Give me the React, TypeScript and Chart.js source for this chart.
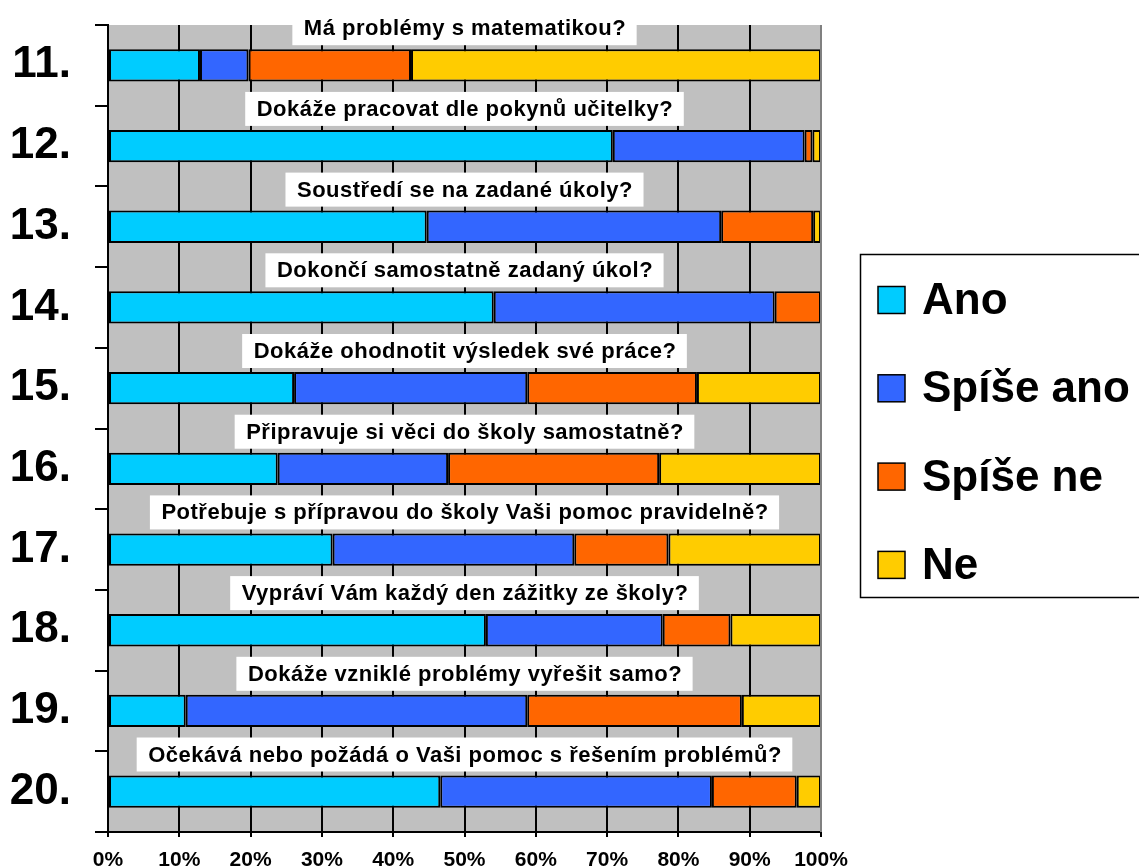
import React, { useEffect, useRef } from 'react';
import { Chart, registerables } from 'chart.js';

Chart.register(...registerables);

const categories = ['11.', '12.', '13.', '14.', '15.', '16.', '17.', '18.', '19.', '20.'];
const questions = [
  'Má problémy s matematikou?',
  'Dokáže pracovat dle pokynů učitelky?',
  'Soustředí se na zadané úkoly?',
  'Dokončí samostatně zadaný úkol?',
  'Dokáže ohodnotit výsledek své práce?',
  'Připravuje si věci do školy samostatně?',
  'Potřebuje s přípravou do školy Vaši pomoc pravidelně?',
  'Vypráví Vám každý den zážitky ze školy?',
  'Dokáže vzniklé problémy vyřešit samo?',
  'Očekává nebo požádá o Vaši pomoc s řešením problémů?',
];
const seriesNames = ['Ano', 'Spíše ano', 'Spíše ne', 'Ne'];
const ano = [12.9, 70.8, 44.7, 54.1, 26.1, 23.8, 31.5, 53.0, 10.9, 46.6];
const spiseAno = [6.8, 26.9, 41.3, 39.4, 32.7, 23.9, 33.9, 24.8, 47.9, 38.1];
const spiseNe = [22.8, 1.1, 12.9, 6.5, 23.8, 29.6, 13.2, 9.5, 30.1, 11.9];
const ne = [57.5, 1.2, 1.1, 0, 17.4, 22.7, 21.4, 12.7, 11.1, 3.4];
const xTickLabels = ['0%', '10%', '20%', '30%', '40%', '50%', '60%', '70%', '80%', '90%', '100%'];

const colors = ['#00CCFF', '#3366FF', '#FF6600', '#FFCC00'];
const FONT = '"Liberation Sans", Arial, sans-serif';

const backgroundPlugin = {
  id: 'plotBg',
  beforeDraw(chart: any) {
    const { ctx, chartArea } = chart;
    ctx.save();
    ctx.fillStyle = '#C0C0C0';
    ctx.fillRect(chartArea.left, chartArea.top, chartArea.right - chartArea.left, chartArea.bottom - chartArea.top);
    ctx.restore();
  },
};

const questionPlugin = {
  id: 'questionBoxes',
  afterDatasetsDraw(chart: any) {
    const { ctx, chartArea } = chart;
    const meta = chart.getDatasetMeta(0);
    const cx = (chartArea.left + chartArea.right) / 2;
    ctx.save();
    ctx.font = `bold 22px ${FONT}`;
    try { (ctx as any).letterSpacing = '0.5px'; } catch (e) {}
    ctx.textAlign = 'center';
    ctx.textBaseline = 'middle';
    questions.forEach((q, i) => {
      const el = meta.data[i] as any;
      const barTop = el.y - el.height / 2;
      const bottom = barTop - 4;
      const top = bottom - 34;
      const w = ctx.measureText(q).width;
      ctx.fillStyle = '#FFFFFF';
      ctx.fillRect(cx - w / 2 - 11, top, w + 22, bottom - top);
      ctx.fillStyle = '#000000';
      ctx.fillText(q, cx + 0.5, (top + bottom) / 2 + 1);
    });
    ctx.restore();
  },
};

const legendPlugin = {
  id: 'customLegend',
  afterDraw(chart: any) {
    const { ctx, chartArea } = chart;
    ctx.save();
    ctx.strokeStyle = '#808080';
    ctx.lineWidth = 2;
    ctx.beginPath();
    ctx.moveTo(chartArea.right, chartArea.top);
    ctx.lineTo(chartArea.right, chartArea.bottom);
    ctx.stroke();

    ctx.strokeStyle = '#000000';
    ctx.lineWidth = 1.5;
    ctx.strokeRect(860.5, 254.5, 300, 343);
    ctx.font = `bold 44px ${FONT}`;
    ctx.textAlign = 'left';
    ctx.textBaseline = 'middle';
    chart.data.datasets.forEach((ds: any, i: number) => {
      const cy = 300 + i * 88.3;
      ctx.fillStyle = ds.backgroundColor;
      ctx.fillRect(878, cy - 13.5, 27, 27);
      ctx.lineWidth = 1.5;
      ctx.strokeStyle = '#000000';
      ctx.strokeRect(878, cy - 13.5, 27, 27);
      ctx.fillStyle = '#000000';
      ctx.fillText(ds.label, 922, cy + 2);
    });
    ctx.restore();
  },
};

export default function App() {
  const canvasRef = useRef<HTMLCanvasElement | null>(null);

  useEffect(() => {
    document.body.style.margin = '0';
    const canvas = canvasRef.current;
    if (!canvas) return;
    const seriesData = [ano, spiseAno, spiseNe, ne];
    const chart = new Chart(canvas, {
      type: 'bar',
      data: {
        labels: categories,
        datasets: seriesNames.map((name, i) => ({
          label: name,
          data: seriesData[i],
          backgroundColor: colors[i],
          borderColor: '#000000',
          borderWidth: 2,
          borderSkipped: false,
          categoryPercentage: 1,
          barPercentage: 0.4,
        })),
      },
      options: {
        indexAxis: 'y',
        responsive: false,
        animation: false,
        devicePixelRatio: 1,
        layout: { padding: { top: 25, right: 318, left: 0, bottom: 0 } },
        plugins: {
          legend: { display: false },
          tooltip: { enabled: false },
          title: { display: false },
        },
        scales: {
          x: {
            stacked: true,
            min: 0,
            max: 100,
            ticks: {
              stepSize: 10,
              color: '#000000',
              font: { family: FONT, size: 21, weight: 'bold' },
              padding: 11,
              maxRotation: 0,
              callback: (_v: any, idx: number) => xTickLabels[idx],
            },
            grid: {
              color: '#000000',
              lineWidth: 2,
              drawTicks: true,
              tickLength: 5,
              tickColor: '#000000',
            },
            border: { display: true, color: '#000000', width: 2 },
            afterFit: (scale: any) => { scale.height = 36; },
          },
          y: {
            stacked: true,
            ticks: {
              color: '#000000',
              font: { family: FONT, size: 44, weight: 'bold' },
              padding: 24,
            },
            grid: {
              offset: true,
              drawOnChartArea: false,
              drawTicks: true,
              tickLength: 13,
              color: '#000000',
              lineWidth: 2,
            },
            border: { display: true, color: '#000000', width: 2 },
            afterFit: (scale: any) => {
              scale.width = 108;
              scale.paddingTop = 0;
              scale.paddingBottom = 0;
            },
          },
        },
      },
      plugins: [backgroundPlugin, questionPlugin, legendPlugin],
    } as any);
    return () => chart.destroy();
  }, []);

  return (
    <div style={{ width: 1139, height: 868, position: 'relative', background: '#FFFFFF' }}>
      <canvas ref={canvasRef} width={1139} height={868} style={{ display: 'block', width: 1139, height: 868 }} />
    </div>
  );
}
